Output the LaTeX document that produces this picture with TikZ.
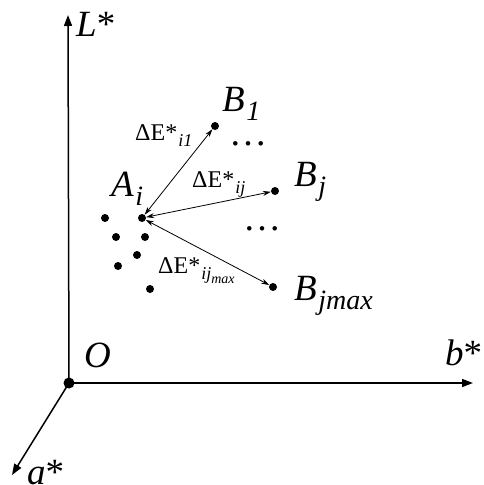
\documentclass[tikz,border=0pt]{standalone}
\usepackage{fontspec}
\setmainfont{Liberation Serif}
\usetikzlibrary{arrows.meta}
\newcommand\bigsub[1]{\kern1.5pt\raisebox{-9pt}{\fontsize{28}{28}\selectfont\itshape #1}}
\newcommand\smallsub[1]{\kern1pt\raisebox{-6pt}{\fontsize{18}{18}\selectfont\itshape #1}}
\begin{document}
\begin{tikzpicture}[x=1pt,y=-1pt,
  dot/.style={circle,fill=black,inner sep=0pt,minimum size=8pt},
  bigdot/.style={circle,fill=black,inner sep=0pt,minimum size=11pt},
  axis/.style={line width=1.5pt,-{Triangle[length=11pt,width=8pt]}},
  diff/.style={line width=0.8pt,{Stealth[length=8pt,width=5pt]}-{Stealth[length=8pt,width=5pt]}},
  biglabel/.style={inner sep=0pt,anchor=base west,font=\fontsize{37}{37}\selectfont},
  smalllabel/.style={inner sep=0pt,anchor=base west,font=\fontsize{24}{24}\selectfont},
  ell/.style={inner sep=0pt,font=\fontsize{38}{38}\selectfont}]
\useasboundingbox (0,0) rectangle (484,485);
% axes
\node[bigdot] (O) at (69,383) {};
\coordinate (Ltop) at (68,15);
\coordinate (btip) at (473,383);
\coordinate (atip) at (12,475);
\draw[axis] (O.center) -- (Ltop);
\draw[axis] (O.center) -- (btip);
\draw[axis] (O.center) -- (atip);
% points
\node[dot] (A) at (142,218) {};
\node[dot] (B1) at (215,126) {};
\node[dot] (Bj) at (275,191) {};
\node[dot] (Bm) at (273,287) {};
\node[dot] (p1) at (105,218) {};
\node[dot] (p2) at (116,237) {};
\node[dot] (p3) at (145,237) {};
\node[dot] (p4) at (137,255) {};
\node[dot] (p5) at (118,266) {};
\node[dot] (p6) at (150,289) {};
% connectors
\draw[diff] (A) -- (B1);
\draw[diff] (A) -- (Bj);
\draw[diff] (A) -- (Bm);
% labels
\node[biglabel] (lL) at (76,36) {\textit{L}*};
\node[biglabel] (lO) at (84,367) {\textit{O}};
\node[biglabel] (lb) at (445,365) {\textit{b}*};
\node[biglabel] (la) at (27,484) {\textit{a}*};
\node[biglabel] (lA) at (111,196) {\textit{A}\bigsub{i}};
\node[biglabel] (lB1) at (222,111) {\textit{B}\bigsub{1}};
\node[biglabel] (lBj) at (294,186) {\textit{B}\bigsub{j}};
\node[biglabel] (lBm) at (294,300) {\textit{B}\bigsub{jmax}};
\node[smalllabel] (e1) at (135,140) {ΔE*\smallsub{i1}};
\node[smalllabel] (ej) at (192,187) {ΔE*\smallsub{ij}};
\node[smalllabel] (em) at (158,273) {ΔE*\kern1pt\raisebox{-6pt}{\fontsize{18}{18}\selectfont\itshape ij\raisebox{-4pt}{\fontsize{14}{14}\selectfont max}}};
\node[ell] (d1) at (248,144) {…};
\node[ell] (d2) at (262,229) {…};
\end{tikzpicture}
\end{document}
